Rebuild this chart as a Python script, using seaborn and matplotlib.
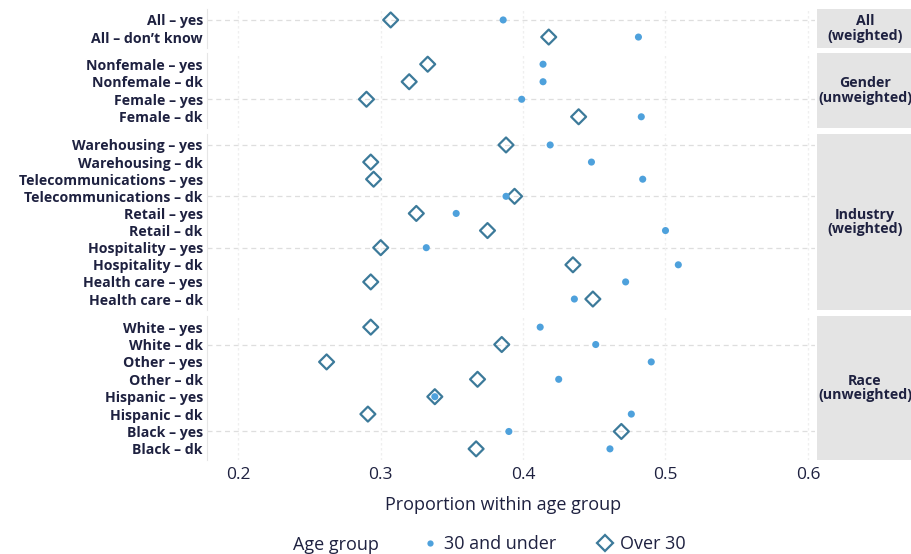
import numpy as np
import pandas as pd
import seaborn as sns
import matplotlib.pyplot as plt
from matplotlib.lines import Line2D

# Data
panel_names = ['All\n(weighted)', 'Gender\n(unweighted)',
               'Industry\n(weighted)', 'Race\n(unweighted)']

all_labels = ['All \u2013 yes', 'All \u2013 don\u2019t know']
all_under30 = [0.386, 0.481]
all_over30 = [0.307, 0.418]

gender_labels = ['Nonfemale \u2013 yes', 'Nonfemale \u2013 dk',
                 'Female \u2013 yes', 'Female \u2013 dk']
gender_under30 = [0.414, 0.414, 0.399, 0.483]
gender_over30 = [0.333, 0.320, 0.290, 0.439]

industry_labels = ['Warehousing \u2013 yes', 'Warehousing \u2013 dk',
                   'Telecommunications \u2013 yes', 'Telecommunications \u2013 dk',
                   'Retail \u2013 yes', 'Retail \u2013 dk',
                   'Hospitality \u2013 yes', 'Hospitality \u2013 dk',
                   'Health care \u2013 yes', 'Health care \u2013 dk']
industry_under30 = [0.419, 0.448, 0.484, 0.388, 0.353, 0.500, 0.332, 0.509, 0.472, 0.436]
industry_over30 = [0.388, 0.293, 0.295, 0.394, 0.325, 0.375, 0.300, 0.435, 0.293, 0.449]

race_labels = ['White \u2013 yes', 'White \u2013 dk', 'Other \u2013 yes', 'Other \u2013 dk',
               'Hispanic \u2013 yes', 'Hispanic \u2013 dk', 'Black \u2013 yes', 'Black \u2013 dk']
race_under30 = [0.412, 0.451, 0.490, 0.425, 0.338, 0.476, 0.390, 0.461]
race_over30 = [0.293, 0.385, 0.262, 0.368, 0.338, 0.291, 0.469, 0.367]

x_ticks = [0.2, 0.3, 0.4, 0.5, 0.6]

# long table
rows = []
for name, labs, u30, o30 in zip(panel_names,
                                [all_labels, gender_labels, industry_labels, race_labels],
                                [all_under30, gender_under30, industry_under30, race_under30],
                                [all_over30, gender_over30, industry_over30, race_over30]):
    for i, lab in enumerate(labs):
        rows.append({'panel': name, 'label': lab, 'row': i,
                     'age': '30 and under', 'prop': u30[i]})
        rows.append({'panel': name, 'label': lab, 'row': i,
                     'age': 'Over 30', 'prop': o30[i]})
df = pd.DataFrame(rows)

sns.set_theme(style='white')
plt.rcParams['font.family'] = ['Open Sans', 'DejaVu Sans']

text_col = '#1e2140'
dot_col = '#4ea1dc'
dia_col = '#3c7a9a'
grid_col = '#dedede'

W, H = 912, 554
fig = plt.figure(figsize=(W / 100, H / 100), dpi=100)

# panel extents in pixels (top, bottom)
tops = [9, 53, 134, 316]
bottoms = [48, 128, 310, 460]
hgrid = [[0], [2], [0, 3, 6], [1, 6]]
x0, x1 = 207, 815

for k, name in enumerate(panel_names):
    ax = fig.add_axes([x0 / W, 1 - bottoms[k] / H, (x1 - x0) / W, (bottoms[k] - tops[k]) / H])
    sub = df[df['panel'] == name]
    labs = sub.drop_duplicates('row')['label'].tolist()
    n = len(labs)

    for r in hgrid[k]:
        ax.axhline(r, color=grid_col, lw=0.9, ls=(0, (4, 3)), zorder=0)
    for xt in x_ticks:
        ax.axvline(xt, color='#efefef', lw=0.9, ls=(0, (2, 2)), zorder=0)

    sns.scatterplot(data=sub[sub['age'] == 'Over 30'], x='prop', y='row', ax=ax,
                    marker='D', s=58, facecolor='none', edgecolor=dia_col,
                    linewidth=1.6, zorder=3, legend=False)
    sns.scatterplot(data=sub[sub['age'] == '30 and under'], x='prop', y='row', ax=ax,
                    marker='o', s=26, color=dot_col, edgecolor='none',
                    zorder=4, legend=False)

    pad = 0.64
    ax.set_ylim(n - 1 + pad, -pad)
    ax.set_xlim(0.178, 0.605)
    ax.set_yticks(range(n))
    ax.set_yticklabels(labs, fontsize=10.2, fontweight='bold', color=text_col)
    ax.set_ylabel('')
    ax.set_xticks(x_ticks)
    ax.set_xlabel('')
    ax.tick_params(axis='both', length=0, pad=3)
    for s in ['top', 'right', 'bottom']:
        ax.spines[s].set_visible(False)
    ax.spines['left'].set_color('#e6e6e6')
    ax.spines['left'].set_linewidth(0.8)
    if k < 3:
        ax.set_xticklabels([])
    else:
        ax.set_xticklabels([f'{v:.1f}' for v in x_ticks], fontsize=12.5, color=text_col)
        ax.tick_params(axis='x', pad=5)

    # facet strip on the right
    sax = fig.add_axes([817 / W, 1 - bottoms[k] / H, 96 / W, (bottoms[k] - tops[k]) / H])
    sax.set_facecolor('#e4e4e4')
    sax.set_xticks([])
    sax.set_yticks([])
    for s in sax.spines.values():
        s.set_visible(False)
    sax.text(0.5, 0.5, name, ha='center', va='center', fontsize=10.2,
             fontweight='bold', color=text_col, linespacing=1.05,
             transform=sax.transAxes)

fig.text(((x0 + x1) / 2 - 8) / W, 1 - 505 / H, 'Proportion within age group',
         ha='center', va='center', fontsize=13, color=text_col)

fig.text(293 / W, 1 - 545 / H, 'Age group', ha='left', va='center',
         fontsize=13, color=text_col)
handles = [Line2D([], [], ls='none', marker='o', ms=4.5, color=dot_col, mec='none'),
           Line2D([], [], ls='none', marker='D', ms=8, mfc='none', mec=dia_col, mew=1.6)]
fig.legend(handles, ['30 and under', 'Over 30'], loc='center',
           bbox_to_anchor=(553 / W, 1 - 544 / H), ncol=2, frameon=False,
           fontsize=13, handletextpad=0.3, columnspacing=2.2, handlelength=1.0,
           labelcolor=text_col)

fig.savefig('out.png', dpi=100)
